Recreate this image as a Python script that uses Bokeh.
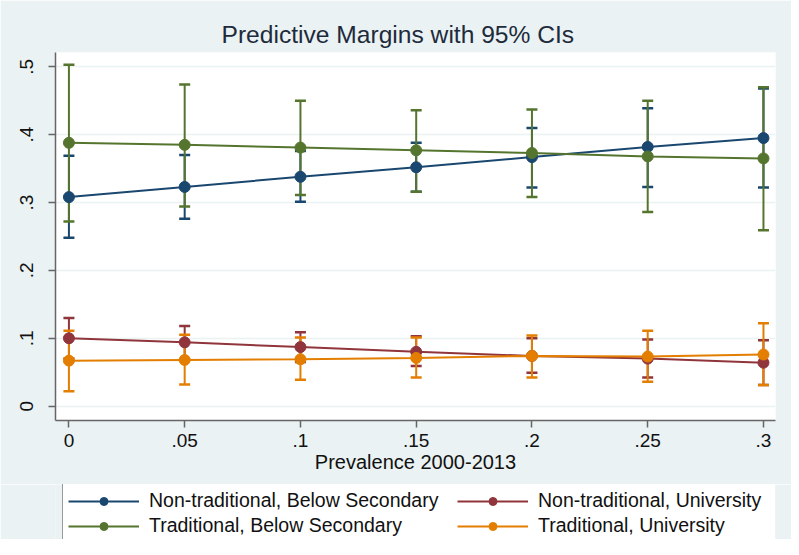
from bokeh.plotting import figure
from bokeh.layouts import column
from bokeh.models import Range1d, FixedTicker, Legend, LegendItem, ColumnDataSource
from bokeh.embed import file_html
from bokeh.resources import INLINE

# ---- data ----
prevalence = [0, 0.05, 0.10, 0.15, 0.20, 0.25, 0.30]
x_tick_labels = ["0", ".05", ".1", ".15", ".2", ".25", ".3"]
y_ticks = [0, 0.1, 0.2, 0.3, 0.4, 0.5]
y_tick_labels = ["0", ".1", ".2", ".3", ".4", ".5"]

series_names = [
    "Non-traditional, Below Secondary",
    "Non-traditional, University",
    "Traditional, Below Secondary",
    "Traditional, University",
]

nt_below_mean = [0.308, 0.323, 0.338, 0.352, 0.367, 0.382, 0.395]
nt_below_lo = [0.248, 0.276, 0.301, 0.316, 0.322, 0.323, 0.322]
nt_below_hi = [0.369, 0.370, 0.376, 0.388, 0.410, 0.439, 0.468]

nt_univ_mean = [0.100, 0.094, 0.087, 0.080, 0.074, 0.070, 0.064]
nt_univ_lo = [0.070, 0.069, 0.065, 0.059, 0.049, 0.042, 0.031]
nt_univ_hi = [0.130, 0.118, 0.109, 0.103, 0.100, 0.098, 0.097]

tr_below_mean = [0.388, 0.385, 0.381, 0.377, 0.373, 0.368, 0.365]
tr_below_lo = [0.272, 0.294, 0.311, 0.316, 0.308, 0.286, 0.259]
tr_below_hi = [0.503, 0.474, 0.450, 0.436, 0.437, 0.450, 0.470]

tr_univ_mean = [0.067, 0.068, 0.069, 0.071, 0.074, 0.073, 0.076]
tr_univ_lo = [0.022, 0.032, 0.039, 0.042, 0.042, 0.036, 0.031]
tr_univ_hi = [0.111, 0.105, 0.101, 0.101, 0.104, 0.111, 0.122]

colors = ["#1a476f", "#90353b", "#55752f", "#e37e00"]

series = [
    (series_names[0], nt_below_mean, nt_below_lo, nt_below_hi, colors[0]),
    (series_names[1], nt_univ_mean, nt_univ_lo, nt_univ_hi, colors[1]),
    (series_names[2], tr_below_mean, tr_below_lo, tr_below_hi, colors[2]),
    (series_names[3], tr_univ_mean, tr_univ_lo, tr_univ_hi, colors[3]),
]

FONT = "Liberation Sans"
BG = "#eaf2f3"

p = figure(
    width=791, height=484,
    output_backend="svg", toolbar_location=None,
    x_range=Range1d(-0.0058, 0.3052), y_range=Range1d(-0.0212, 0.5211),
    min_border_left=55, min_border_right=16, min_border_top=52, min_border_bottom=64,
)
p.background_fill_color = "white"
p.border_fill_color = BG
p.outline_line_color = None

p.title.text = "Predictive Margins with 95% CIs"
p.title.align = "left"
p.title.offset = 166
p.title.text_font = FONT
p.title.text_font_size = "24.6px"
p.title.text_font_style = "normal"
p.title.text_color = "#1e2b3c"
p.title.standoff = 10

# axes
p.xaxis.ticker = FixedTicker(ticks=prevalence)
p.xaxis.major_label_overrides = {v: s for v, s in zip(prevalence, x_tick_labels)}
p.yaxis.ticker = FixedTicker(ticks=y_ticks)
p.yaxis.major_label_overrides = {v: s for v, s in zip(y_ticks, y_tick_labels)}
p.yaxis.major_label_orientation = "vertical"
for ax in (p.xaxis, p.yaxis):
    ax.axis_line_color = "#666666"
    ax.axis_line_width = 1.5
    ax.major_tick_line_color = "#666666"
    ax.major_tick_line_width = 1.5
    ax.major_tick_in = 0
    ax.major_tick_out = 7
    ax.minor_tick_line_color = None
    ax.major_label_text_font = FONT
    ax.major_label_text_font_size = "19px"
    ax.major_label_text_color = "#111111"
p.xaxis.major_label_standoff = 6
p.yaxis.major_label_standoff = 15
p.xaxis.axis_label = "Prevalence 2000-2013"
p.xaxis.axis_label_text_font = FONT
p.xaxis.axis_label_text_font_size = "20px"
p.xaxis.axis_label_text_font_style = "normal"
p.xaxis.axis_label_text_color = "#111111"
p.xaxis.axis_label_standoff = 1

p.xgrid.grid_line_color = None
p.ygrid.grid_line_color = BG
p.ygrid.grid_line_width = 1.5

# confidence intervals first
for name, m, lo, hi, c in series:
    src = ColumnDataSource(dict(x=prevalence, lo=lo, hi=hi))
    p.segment(x0="x", y0="lo", x1="x", y1="hi", source=src, line_color=c, line_width=2)
    p.scatter(x="x", y="lo", source=src, marker="dash", size=11, line_color=c, line_width=2.5)
    p.scatter(x="x", y="hi", source=src, marker="dash", size=11, line_color=c, line_width=2.5)

for name, m, lo, hi, c in series:
    src = ColumnDataSource(dict(x=prevalence, y=m))
    p.line(x="x", y="y", source=src, line_color=c, line_width=2)
    p.scatter(x="x", y="y", source=src, marker="circle", size=11, fill_color=c, line_color=c)

# ---- legend strip (separate figure so the box may run past the bottom edge) ----
leg = figure(
    width=791, height=55,
    output_backend="svg", toolbar_location=None,
    x_range=Range1d(10, 11), y_range=Range1d(10, 11),
    x_axis_type=None, y_axis_type=None,
    min_border_left=0, min_border_right=0, min_border_top=0, min_border_bottom=0,
)
leg.background_fill_color = BG
leg.border_fill_color = BG
leg.outline_line_color = None
leg.xgrid.grid_line_color = None
leg.ygrid.grid_line_color = None

items = {}
for name, m, lo, hi, c in series:
    src = ColumnDataSource(dict(x=prevalence, y=m))
    r1 = leg.line(x="x", y="y", source=src, line_color=c, line_width=2)
    r2 = leg.scatter(x="x", y="y", source=src, marker="circle", size=10, fill_color=c, line_color=c)
    items[name] = [r1, r2]

legend = Legend(
    items=[LegendItem(label=n, renderers=items[n]) for n in series_names],
    location=(7, -4),
    orientation="horizontal",
    ncols=2,
    background_fill_color="white",
    background_fill_alpha=1.0,
    border_line_color="#333333",
    border_line_width=1,
    label_text_font=FONT,
    label_text_font_size="19.5px",
    label_text_color="#111111",
    glyph_width=71,
    glyph_height=20,
    label_height=20,
    label_width=306,
    label_standoff=10,
    spacing=2,
    padding=5,
    margin=0,
)
leg.add_layout(legend, "center")

layout = column(p, leg, spacing=0)
open("out.html", "w").write(file_html(layout, INLINE))
